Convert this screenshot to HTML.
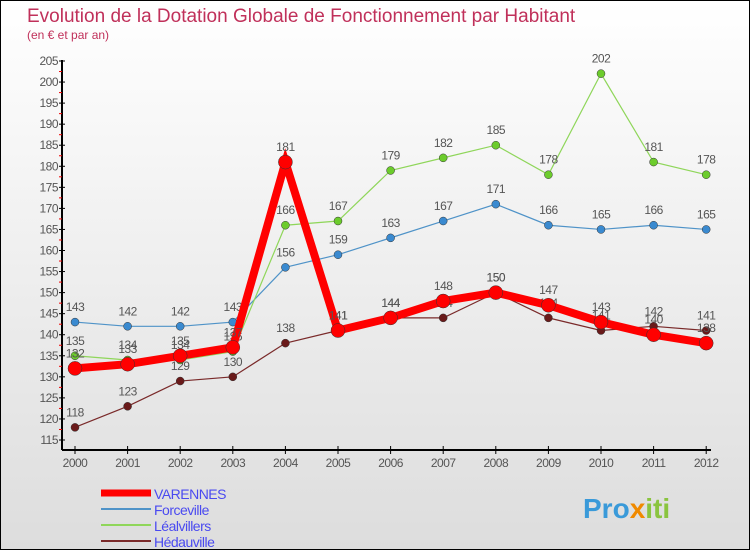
<!DOCTYPE html>
<html><head><meta charset="utf-8"><style>
body{margin:0;}
#c{position:relative;width:748px;height:548px;border:1px solid #000;background:linear-gradient(#fff,#ddd);font-family:"Liberation Sans",sans-serif;overflow:hidden}
</style></head><body>
<div id="c">
<svg id="s" width="748" height="548" xmlns="http://www.w3.org/2000/svg">
<text x="26" y="21" font-size="19" fill="#c0305a">Evolution de la Dotation Globale de Fonctionnement par Habitant</text>
<text x="26" y="38" font-size="12" fill="#c0305a">(en € et par an)</text>
<g id="axes"></g><g id="series"></g><g id="legend"></g>
<text x="582" y="517" font-size="28" font-weight="bold" fill="#3a9ad9">Pro<tspan fill="#f08a00">x</tspan><tspan fill="#8ac43f">iti</tspan></text>
</svg></div>
<script>
const years=[2000,2001,2002,2003,2004,2005,2006,2007,2008,2009,2010,2011,2012];
const yTicks=[115,120,125,130,135,140,145,150,155,160,165,170,175,180,185,190,195,200,205];
const varennes=[132,133,135,137,181,141,144,148,150,147,143,140,138];
const forceville=[143,142,142,143,156,159,163,167,171,166,165,166,165];
const lealvillers=[135,134,134,136,166,167,179,182,185,178,202,181,178];
const hedauville=[118,123,129,130,138,141,144,144,150,144,141,142,141];
const NS='http://www.w3.org/2000/svg';
const X=i=>74+i*52.6;
const Y=v=>439-(v-115)*(379/90);
function mk(t,a,p){const e=document.createElementNS(NS,t);for(const k in a)e.setAttribute(k,a[k]);p.appendChild(e);return e;}
const ax=document.getElementById('axes');
let l=mk('line',{x1:61,y1:59,x2:61,y2:449,stroke:'#000','stroke-width':2},ax);


l=mk('line',{x1:61,y1:449,x2:710,y2:449,stroke:'#000','stroke-width':2},ax);


yTicks.forEach(v=>{
  mk('line',{x1:58,y1:Y(v),x2:64,y2:Y(v),stroke:'#000'},ax);
  if(v<205)mk('line',{x1:58,y1:Y(v+2.5),x2:61,y2:Y(v+2.5),stroke:'#e00'},ax);
  const t=mk('text',{x:57,y:Y(v)+4,'font-size':12,fill:'#555','text-anchor':'end','letter-spacing':'-0.5'},ax);t.textContent=v;
  
  
});
years.forEach((y,i)=>{
  mk('line',{x1:X(i),y1:445,x2:X(i),y2:453,stroke:'#000'},ax);
  const t=mk('text',{x:X(i),y:466,'font-size':12,fill:'#555','text-anchor':'middle','letter-spacing':'-0.5'},ax);t.textContent=y;
  
  
});
const sg=document.getElementById('series');
function series(d,color,w,r,fill,name){
  const g=mk('g',{},sg);
  
  
  mk('polyline',{points:d.map((v,i)=>X(i)+','+Y(v)).join(' '),fill:'none',stroke:color,'stroke-width':w},g);
  d.forEach((v,i)=>{
    const c=mk('circle',{cx:X(i),cy:Y(v),r:r,fill:fill,stroke:'#333','stroke-width':0.5},g);
    
    
    const t=mk('text',{x:X(i),y:Y(v)-11,'font-size':12,fill:'#555','text-anchor':'middle','letter-spacing':'-0.5'},g);t.textContent=v;
    
    
  });
}
series(hedauville,'#7a2a2a',1.2,4,'#6a1a1a','hedauville');
series(forceville,'#4f93c8',1.2,4,'#3a8ad0','forceville');
series(lealvillers,'#8fd65a',1.2,4,'#6ccc2c','lealvillers');
series(varennes,'#f00',8,7,'#f00','varennes');
const lg=document.getElementById('legend');
const ent=[['VARENNES','#f00',7],['Forceville','#4f93c8',2],['Léalvillers','#8fd65a',2],['Hédauville','#7a2a2a',2]];
ent.forEach((e,i)=>{
  const y=492+i*16;
  const g=mk('g',{},lg);
  
  
  mk('line',{x1:100,y1:y,x2:150,y2:y,stroke:e[1],'stroke-width':e[2]},g);
  const t=mk('text',{x:153,y:y+6,'font-size':14,fill:'#4a4af0','letter-spacing':'-0.5'},g);t.textContent=e[0];
});
</script>
</body></html>
